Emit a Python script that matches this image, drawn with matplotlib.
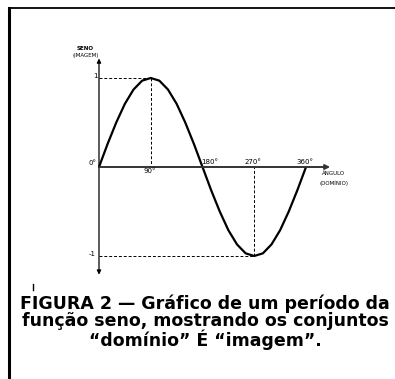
import matplotlib.pyplot as plt

# angle (degrees) and sine values
angles = [0, 15, 30, 45, 60, 75, 90, 105, 120, 135, 150, 165, 180,
          195, 210, 225, 240, 255, 270, 285, 300, 315, 330, 345, 360]
seno = [0.00, 0.26, 0.50, 0.71, 0.87, 0.97, 1.00, 0.97, 0.87, 0.71, 0.50, 0.26, 0.00,
        -0.26, -0.50, -0.71, -0.87, -0.97, -1.00, -0.97, -0.87, -0.71, -0.50, -0.26, 0.00]
tick_angles = [90, 180, 270, 360]
tick_labels = ["90°", "180°", "270°", "360°"]
caption = ["FIGURA 2 — Gráfico de um período da",
           "função seno, mostrando os conjuntos",
           "“domínio” É “imagem”."]

W, H = 395, 379
fig = plt.figure(figsize=(W / 100, H / 100), dpi=100)
ax = fig.add_axes([0, 0, 1, 1])
# pixel layout of the scan: 0 deg at x=99, 360 deg at x=306, axis at y=167, 89 px per unit
ax.set_xlim(-99 / 0.575, (W - 99) / 0.575)
ax.set_ylim((167 - H) / 89, 167 / 89)
ax.axis('off')

# frame lines of the page
fig.add_artist(plt.Line2D([9 / W, 9 / W], [0, 1 - 8 / H], color='k', lw=2.2))
fig.add_artist(plt.Line2D([9 / W, 1], [1 - 8 / H, 1 - 8 / H], color='k', lw=1.3))

# axes with arrows
ax.annotate('', xy=(0, 1.22), xytext=(0, -1.21),
            arrowprops=dict(arrowstyle='<|-|>', lw=0.9, color='k',
                            mutation_scale=6, shrinkA=0, shrinkB=0))
ax.annotate('', xy=(402, 0), xytext=(0, 0),
            arrowprops=dict(arrowstyle='-|>', lw=1.4, color='#333333',
                            mutation_scale=7, shrinkA=0, shrinkB=0))

# dashed guides
ax.plot([0, 90], [1, 1], color='k', lw=0.7, ls=(0, (3, 2)))
ax.plot([90, 90], [1, 0], color='k', lw=0.7, ls=(0, (3, 2)))
ax.plot([0, 270], [-1, -1], color='k', lw=0.7, ls=(0, (3, 2)))
ax.plot([270, 270], [-1, 0], color='k', lw=0.7, ls=(0, (3, 2)))

# sine curve
ax.plot(angles, seno, color='k', lw=1.6, solid_capstyle='round')

small = dict(fontsize=5, color='k', family='DejaVu Sans')
ax.text(-3, 1.02, "1", ha='right', va='center', **small)
ax.text(-5, 0.04, "0°", ha='right', va='center', **small)
ax.text(-6, -0.98, "-1", ha='right', va='center', **small)
for a, lab in zip(tick_angles, tick_labels):
    if a == 90:
        ax.text(a - 1, -0.05, lab, ha='center', va='center', **small)
    else:
        ax.text(a - 2 + (14 if a == 180 else 0), 0.06, lab, ha='center', va='center', **small)
ax.text(-24, 1.33, "SENO", ha='center', va='center', fontsize=4, weight='bold')
ax.text(-24, 1.25, "(IMAGEM)", ha='center', va='center', fontsize=4)
ax.text(408, -0.07, "ÂNGULO", ha='center', va='center', fontsize=4)
ax.text(408, -0.18, "(DOMÍNIO)", ha='center', va='center', fontsize=4)

# small stray mark of the scan under the graph
fig.add_artist(plt.Line2D([33 / W, 33 / W], [1 - 284 / H, 1 - 290 / H], color='k', lw=1))

fig.text(205 / W, 1 - 322 / H, "\n".join(caption), ha='center', va='center',
         multialignment='center', linespacing=0.95,
         fontsize=12.5, weight='bold', family='DejaVu Sans', color='k')

fig.savefig("out.png", dpi=100)
